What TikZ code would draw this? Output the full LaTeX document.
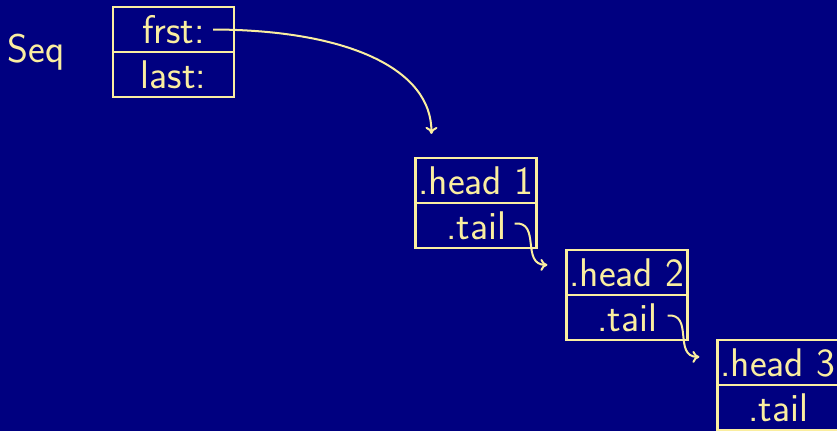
\documentclass[tikz,border=0pt]{standalone}
\usepackage{fontspec}
\usetikzlibrary{arrows.meta}
\definecolor{bgnavy}{RGB}{0,0,128}
\definecolor{ink}{RGB}{250,238,160}
\tikzset{
  label text/.style={text=ink, font=\sffamily\fontsize{40}{42}\selectfont},
  cell/.style={label text, draw=ink, line width=2.2pt, minimum width=121pt, minimum height=45pt,
    inner sep=0pt},
  link/.style={draw=ink, line width=2pt, -{To[length=7pt,width=12pt]}},
}
\begin{document}
\begin{tikzpicture}[x=1pt,y=-1pt]
  \useasboundingbox (0,0) rectangle (837,431);
  \fill[bgnavy] (0,0) rectangle (837,431);
  \clip (0,0) rectangle (837,431);

  \node[label text] (seq) at (36,52) {Seq};

  % the sequence header record
  \node[cell] (frst) at (173.5,29.5) {frst:};
  \node[cell] (last) at (173.5,74.5) {last:};

  % three linked cells
  \node[cell] (h1) at (476,180.5) {.head 1};
  \node[cell] (t1) at (476,225.5) {.tail};
  \node[cell] (h2) at (627,272.5) {.head 2};
  \node[cell] (t2) at (627,317.5) {.tail};
  \node[cell] (h3) at (778,362.5) {.head 3};
  \node[cell] (t3) at (778,407.5) {.tail};

  % pointer origins and targets
  \coordinate (p0) at ([xshift=-22pt]frst.east);
  \coordinate (q0) at ([xshift=17pt,yshift=23pt]h1.north west);
  \coordinate (p1) at ([xshift=-23pt,yshift=2pt]t1.east);
  \coordinate (q1) at ([xshift=-18pt,yshift=-16pt]h2.north west);
  \coordinate (p2) at ([xshift=-21pt,yshift=2pt]t2.east);
  \coordinate (q2) at ([xshift=-17pt,yshift=-18pt]h3.north west);

  \draw[link] (p0) .. controls (350,30) and (432,70) .. (q0);
  \draw[link] (p1) to[out=5,in=180,looseness=1.3] (q1);
  \draw[link] (p2) to[out=5,in=180,looseness=1.3] (q2);
\end{tikzpicture}
\end{document}
